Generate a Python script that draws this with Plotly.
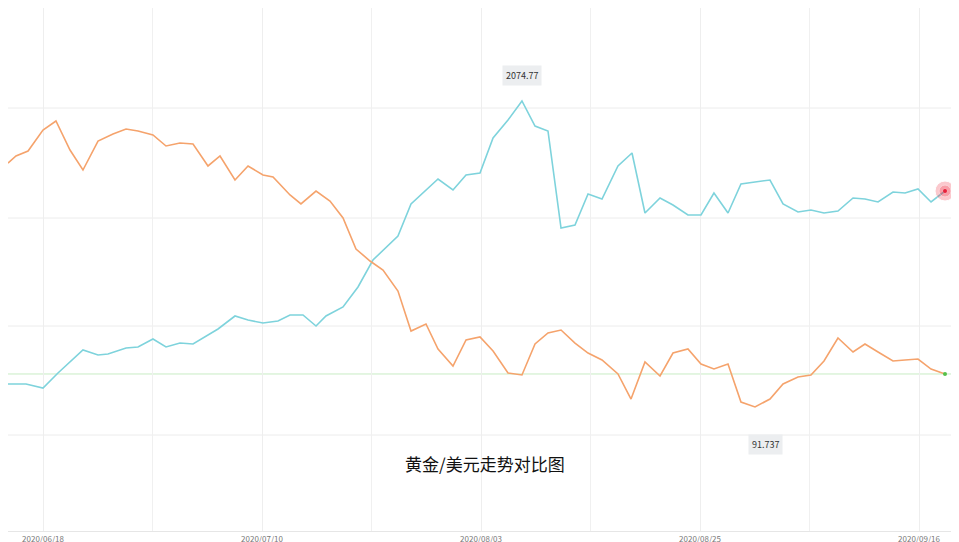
import plotly.graph_objects as go

# pixel-read positions converted to data
gold_px_x = [0,9,18,35,50,75,90,100,118,130,145,158,172,185,200,210,227,240,255,270,282,295,308,318,335,350,365,378,390,403,418,430,445,458,472,485,500,514,527,540,553,567,580,594,610,624,637,652,665,680,693,706,720,733,747,762,775,790,803,816,830,845,857,870,885,897,910,923,937]
gold_px_y = [376,376,376,380,365,342,347,346,340,339,331,339,335,336,327,321,308,312,315,313,307,307,318,308,299,279,252,240,228,196,182,171,182,167,165,130,112,93,118,123,220,217,186,191,158,145,205,190,197,207,207,185,205,176,174,172,196,204,202,205,203,190,191,194,184,185,181,194,183]
usd_px_x = [0,8,20,35,48,62,75,90,105,118,130,145,158,172,185,200,212,227,240,255,265,282,293,308,322,335,348,362,375,390,403,418,430,445,458,472,485,500,514,527,540,553,567,580,594,610,623,637,652,665,680,693,706,720,733,747,762,775,790,803,816,830,845,857,870,885,897,910,923,937]
usd_px_y = [155,148,143,122,113,142,162,133,126,121,123,127,138,135,136,158,148,172,158,167,169,187,196,183,193,210,241,253,262,283,323,316,341,358,332,329,343,365,367,336,325,322,335,345,352,366,391,354,368,345,341,356,361,356,394,399,391,376,369,367,353,330,344,336,344,353,352,351,361,366]

gold_x = [round((p-35)/219*24, 2) for p in gold_px_x]
gold = [round(1725 + (376-y)*1.236, 2) for y in gold_px_y]
usd_x = [round((p-35)/219*24, 2) for p in usd_px_x]
usd = [round(91.737 + (400-y)*0.0199, 3) for y in usd_px_y]

tick_vals = [0, 24, 48, 72, 96]
tick_text = ["2020/06/18", "2020/07/10", "2020/08/03", "2020/08/25", "2020/09/16"]

fig = go.Figure()
fig.add_trace(go.Scatter(x=gold_x, y=gold, mode="lines", line=dict(color="#7ed3dc", width=1.6), yaxis="y", hoverinfo="skip"))
fig.add_trace(go.Scatter(x=usd_x, y=usd, mode="lines", line=dict(color="#f5a36c", width=1.6), yaxis="y2", hoverinfo="skip"))
fig.add_trace(go.Scatter(x=[gold_x[-1]]*3, y=[gold[-1]]*3, mode="markers",
                         marker=dict(color="rgba(240,40,60,1)", size=[20, 12, 4], opacity=0.25), yaxis="y"))
fig.add_trace(go.Scatter(x=[gold_x[-1]], y=[gold[-1]], mode="markers", marker=dict(color="#e8203a", size=4), yaxis="y"))
fig.add_trace(go.Scatter(x=[usd_x[-1]], y=[usd[-1]], mode="markers", marker=dict(color="#55c04a", size=4), yaxis="y2"))

xr = [(0-35)/219*24, (959-35)/219*24]
fig.update_layout(
    width=959, height=542, showlegend=False,
    margin=dict(l=0, r=0, t=0, b=19, autoexpand=False),
    paper_bgcolor="white", plot_bgcolor="white",
    font=dict(family="Noto Sans CJK SC"),
    xaxis=dict(range=xr, tickvals=tick_vals, ticktext=tick_text, showgrid=True, gridcolor="#eeeeee",
               minor=dict(dtick=12, tick0=0, showgrid=True, gridcolor="#f0f0f0"),
               tickfont=dict(size=8, color="#777"), ticklen=0, zeroline=False, showline=True, linecolor="#e6e6e6",
               automargin=False),
    yaxis=dict(range=[1725+(376-523)*1.236, 1725+376*1.236], visible=False, showgrid=False, zeroline=False),
    yaxis2=dict(range=[91.737+(400-523)*0.0199, 91.737+400*0.0199], overlaying="y", visible=False, showgrid=False),
)
for py in [100, 210, 318, 427]:
    fig.add_shape(type="line", xref="paper", yref="paper", x0=0, x1=1, y0=1-py/523, y1=1-py/523,
                  line=dict(color="#ececec", width=1), layer="below")
fig.add_shape(type="line", xref="paper", yref="y2", x0=0, x1=1, y0=usd[-1], y1=usd[-1],
              line=dict(color="#c8ecc4", width=1), layer="below")

fig.add_annotation(x=gold_x[gold.index(max(gold))], y=max(gold), yref="y", text="2074.77", showarrow=False,
                   yshift=26, bgcolor="#eceef0", font=dict(size=9, color="#333"), borderpad=3)
fig.add_annotation(x=usd_x[usd.index(min(usd))], y=min(usd), yref="y2", xshift=10, text="91.737", showarrow=False,
                   yshift=-38, bgcolor="#eceef0", font=dict(size=9, color="#333"), borderpad=3)
fig.add_annotation(xref="paper", yref="paper", x=0.497, y=1-470/523, text="黄金/美元走势对比图", showarrow=False,
                   font=dict(size=17, color="#111"))

fig.write_html("out.html")
